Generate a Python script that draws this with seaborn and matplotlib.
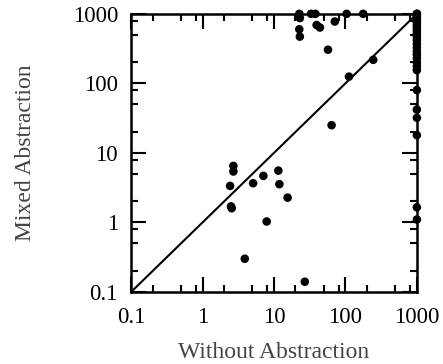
import numpy as np
import pandas as pd
import matplotlib
matplotlib.use("Agg")
import matplotlib.pyplot as plt
import seaborn as sns

# runtimes (s): without abstraction vs. mixed abstraction
without = [2.7, 2.7, 2.43, 2.5, 2.56, 5.1, 7.1, 11.5, 11.9, 15.5, 7.9, 3.9, 27, 64, 112, 245, 57,
           22.6, 23, 22.6, 23, 33, 38, 39.5, 44, 71, 104, 177,
           1000, 1000, 1000, 1000, 1000, 1000, 1000, 1000, 1000, 1000, 1000, 1000, 1000,
           1000, 1000, 1000, 1000, 1000, 1000, 1000, 1000, 1000, 1000, 1000, 1000, 1000]
mixed = [6.5, 5.4, 3.35, 1.7, 1.6, 3.66, 4.67, 5.56, 3.55, 2.27, 1.03, 0.30, 0.14, 25, 125, 218, 305,
         1000, 870, 600, 470, 1000, 1000, 690, 635, 775, 1000, 1000,
         1000, 1000, 950, 880, 820, 760, 700, 640, 580, 520, 470, 420, 370,
         330, 290, 260, 230, 200, 175, 155, 80, 42, 32, 18, 1.65, 1.1]
diag = [0.1, 1000]
decades = [0.1, 1, 10, 100, 1000]
decade_labels = ["0.1", "1", "10", "100", "1000"]

df = pd.DataFrame({"without": without, "mixed": mixed})

sns.set_style("ticks")
plt.rcParams["font.family"] = ["Liberation Serif", "DejaVu Serif"]

fig = plt.figure(figsize=(4.43, 3.64), dpi=100)
ax = fig.add_axes([0.296, 0.198, 0.645, 0.764])

ax.plot(diag, diag, color="black", lw=1.5, zorder=2)
sns.scatterplot(data=df, x="without", y="mixed", ax=ax, color="black", s=38,
                edgecolor="none", clip_on=False, zorder=3)

ax.set_xscale("log")
ax.set_yscale("log")
ax.set_xlim(0.1, 1000)
ax.set_ylim(0.1, 1000)

minor = [d * m for d in decades[:-1] for m in (2, 5, 8)]
for axis in (ax.xaxis, ax.yaxis):
    axis.set_major_locator(matplotlib.ticker.FixedLocator(decades))
    axis.set_major_formatter(matplotlib.ticker.FixedFormatter(decade_labels))
    axis.set_minor_locator(matplotlib.ticker.FixedLocator(minor))
    axis.set_minor_formatter(matplotlib.ticker.NullFormatter())

ax.tick_params(which="both", direction="in", top=True, right=True, width=1.5,
               color="black", labelsize=16.5, labelcolor="black")
ax.tick_params(which="major", length=11)
ax.tick_params(which="minor", length=5)
ax.tick_params(axis="x", which="major", pad=11)
ax.tick_params(axis="y", which="major", pad=9.5)
for sp in ax.spines.values():
    sp.set_linewidth(1.8)
    sp.set_color("black")

ax.set_xlabel("Without Abstraction", fontsize=17, color="#444444", labelpad=10)
ax.set_ylabel("Mixed Abstraction", fontsize=17, color="#444444", labelpad=26)

fig.savefig("out.png", dpi=100)
